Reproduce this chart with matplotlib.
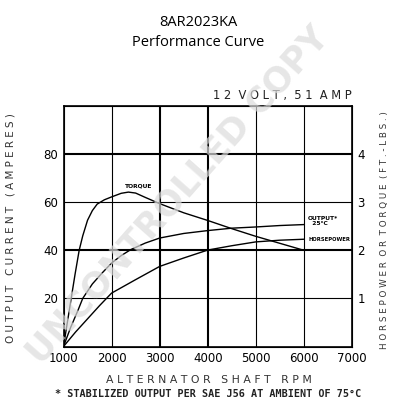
import matplotlib
matplotlib.use("Agg")
import matplotlib.pyplot as plt

# ---- data ----
torque_rpm = [1000, 1080, 1160, 1240, 1326, 1400, 1500, 1600, 1700, 1850, 2000, 2200, 2350,
              2500, 2700, 3000, 3500, 4000, 4500, 5000, 5500, 6000]
torque_amp_equiv = [0, 10, 20, 30, 40, 46, 52.5, 56.5, 59.2, 61, 62.2, 63.7, 64.2,
                    63.8, 62, 59.4, 55.6, 52.4, 49, 45.8, 42.9, 40]
torque_ftlb = [v / 20 for v in torque_amp_equiv]

output_rpm = [1000, 1150, 1300, 1400, 1600, 1800, 2000, 2200, 2400, 2700, 3000, 3500, 4000,
              4500, 5000, 5500, 6000]
output_amp = [0, 8, 15, 20, 26, 30.5, 34.7, 37.8, 40.3, 43, 45.1, 47, 48.2, 49.2, 49.7, 50.3, 50.7]

hp_rpm = [1000, 1250, 1500, 1750, 2000, 2500, 3000, 3500, 4000, 4500, 5000, 5500, 6000]
hp_amp_equiv = [0, 6, 11.5, 17, 22.2, 27.8, 33.3, 36.8, 40.1, 41.9, 43.5, 44.2, 44.6]
hp_val = [v / 20 for v in hp_amp_equiv]

x_ticks = [1000, 2000, 3000, 4000, 5000, 6000, 7000]
left_ticks = [20, 40, 60, 80]
right_ticks = [1, 2, 3, 4]

fig = plt.figure(figsize=(3.96, 4.0), dpi=100)
ax = fig.add_axes([63.5/396, 53.5/400, 288.5/396, 240.5/400])
ax.set_xlim(1000, 7000)
ax.set_ylim(0, 100)

# grid
thick_x = {3000, 4000}
for xv in x_ticks[1:-1]:
    ax.axvline(xv, color="black", lw=1.5 if xv in thick_x else 0.8, zorder=1)
thick_y = {40, 80}
for yv in left_ticks:
    ax.axhline(yv, color="black", lw=1.5 if yv in thick_y else 0.8, zorder=1)
for s in ax.spines.values():
    s.set_linewidth(1.2)

ax2 = ax.twinx()
ax2.set_ylim(0, 5)

ax.plot(output_rpm, output_amp, color="black", lw=1.0, zorder=3)
ax2.plot(torque_rpm, torque_ftlb, color="black", lw=1.0, zorder=3)
ax2.plot(hp_rpm, hp_val, color="black", lw=1.0, zorder=3)

ax.set_xticks(x_ticks)
ax.set_xticklabels([str(v) for v in x_ticks], fontsize=8.5)
ax.set_yticks(left_ticks)
ax.set_yticklabels([str(v) for v in left_ticks], fontsize=8.5)
ax2.set_yticks(right_ticks)
ax2.set_yticklabels([str(v) for v in right_ticks], fontsize=8.5)
ax.tick_params(length=0, pad=4)
ax2.tick_params(length=0, pad=4)

# curve labels
ax.text(2570, 66.8, "TORQUE", fontsize=4.3, fontweight="bold", ha="center", va="center")
ax.text(6080, 52.2, "OUTPUT*\n  25°C", fontsize=4.3, fontweight="bold", ha="left", va="center",
        linespacing=1.0)
ax.text(6100, 44.4, "HORSEPOWER", fontsize=3.8, fontweight="bold", ha="left", va="center")

# titles and labels
fig.text(0.5, 1 - 22/400, "8AR2023KA", fontsize=10.5, ha="center", va="center", family="Open Sans")
fig.text(0.5, 1 - 42/400, "Performance Curve", fontsize=10.5, ha="center", va="center",
         family="Open Sans")
fig.text(352/396, 1 - 95/400, "1 2  V O L T ,  5 1  A M P", fontsize=8.3, ha="right",
         va="center", color="#222222")
fig.text(11/396, 1 - 228/400, "O U T P U T   C U R R E N T   ( A M P E R E S )", fontsize=7.5,
         rotation=90, ha="center", va="center", color="#333333")
fig.text(385/396, 1 - 230/400, "H O R S E P O W E R  O R  T O R Q U E  ( F T . - L B S . )",
         fontsize=6.3, rotation=90, ha="center", va="center", color="#333333")
fig.text(209/396, 1 - 380/400, "A L T E R N A T O R   S H A F T   R P M", fontsize=7.8,
         ha="center", va="center", color="#333333")
fig.text(208/396, 1 - 394/400, "* STABILIZED OUTPUT PER SAE J56 AT AMBIENT OF 75°C", fontsize=7.3,
         fontweight="bold", family="DejaVu Sans Mono", ha="center", va="center", color="#222222")

# watermark
fig.text(178/396, 1 - 195/400, "UNCONTROLLED COPY", fontsize=25, fontweight="bold", rotation=48.5,
         ha="center", va="center", color="#dcdcdc", alpha=0.7, zorder=10)

fig.savefig("out.png", dpi=100)
